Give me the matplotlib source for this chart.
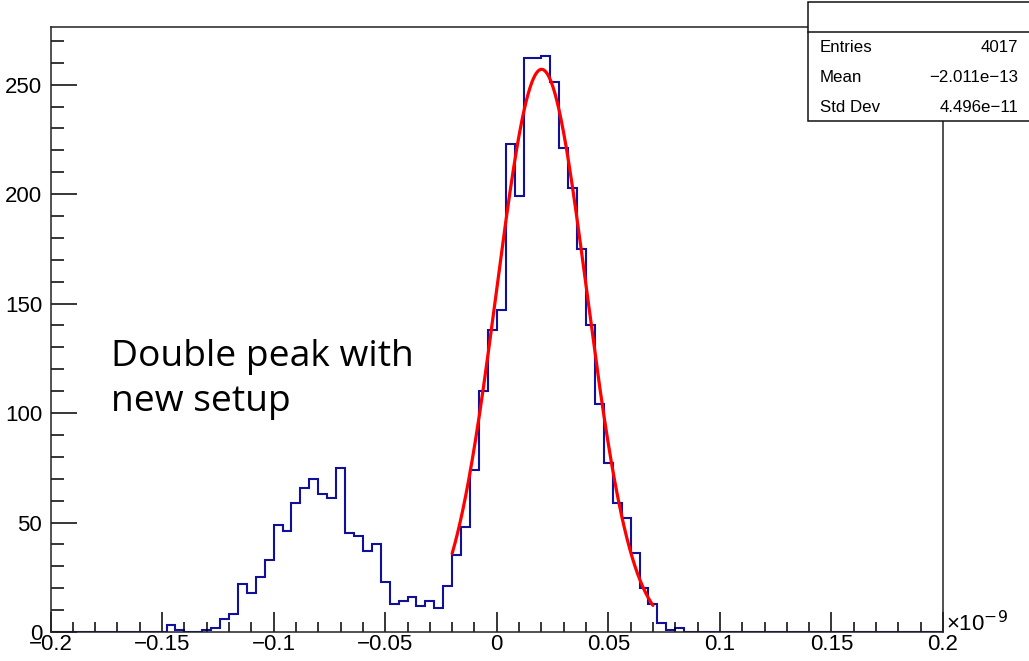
import numpy as np
import matplotlib
matplotlib.use("Agg")
import matplotlib.pyplot as plt
from matplotlib.patches import Rectangle
from matplotlib.lines import Line2D

# ---------------- data ----------------
x_min, x_max, n_bins = -0.2, 0.2, 100          # axis in units of 1e-9
first_filled_bin = 13
filled_counts = [3, 1, 0, 0, 1, 2, 6, 8, 22, 18, 25, 33, 49, 46, 59, 66, 70, 63, 61,
                 75, 45, 44, 37, 40, 23, 13, 14, 16, 12, 14, 11, 21, 35, 48, 74,
                 110, 138, 147, 223, 199, 262, 262, 263, 251, 221, 203, 175, 140,
                 104, 77, 59, 52, 36, 20, 13, 4, 1, 2]
fit_amp, fit_mean, fit_sigma = 257.0, 0.0201, 0.0202
fit_range = (-0.02, 0.07)

x_tick_values = [-0.2, -0.15, -0.1, -0.05, 0, 0.05, 0.1, 0.15, 0.2]
x_tick_labels = ["\u22120.2", "\u22120.15", "\u22120.1", "\u22120.05", "0",
                 "0.05", "0.1", "0.15", "0.2"]
y_tick_values = [0, 50, 100, 150, 200, 250]
y_tick_labels = ["0", "50", "100", "150", "200", "250"]
y_max = 276.2

stats_labels = ["Entries", "Mean", "Std Dev"]
stats_values = ["4017", "\u22122.011e\u221213", "4.496e\u221211"]
annotation_lines = ["Double peak with", "new setup"]

# ---------------- figure ----------------
W, H = 1029, 661
fig = plt.figure(figsize=(W / 100, H / 100), dpi=100)
fig.patch.set_facecolor("white")

def fx(px):
    return px / W

def fy(py):
    return 1 - py / H

ax_l, ax_r, ax_t, ax_b = 50.5, 943, 27.3, 632
ax = fig.add_axes([fx(ax_l), fy(ax_b), fx(ax_r) - fx(ax_l), fy(ax_t) - fy(ax_b)])

counts = np.zeros(n_bins)
counts[first_filled_bin:first_filled_bin + len(filled_counts)] = filled_counts
edges = np.linspace(x_min, x_max, n_bins + 1)
ax.stairs(counts, edges, color="#10109a", lw=1.5, baseline=None)

xf = np.linspace(fit_range[0], fit_range[1], 300)
yf = fit_amp * np.exp(-0.5 * ((xf - fit_mean) / fit_sigma) ** 2)
ax.plot(xf, yf, color="#ff0000", lw=2.3, solid_capstyle="round")

ax.set_xlim(x_min, x_max)
ax.set_ylim(0, y_max)

font_axis = "Liberation Sans"
ax.set_xticks(x_tick_values)
ax.set_xticklabels(x_tick_labels, fontfamily=font_axis, fontsize=16)
ax.set_xticks(np.arange(-0.19, 0.2, 0.01), minor=True)
ax.set_yticks(y_tick_values)
ax.set_yticklabels(y_tick_labels, fontfamily=font_axis, fontsize=16)
ax.set_yticks(np.arange(10, 271, 10), minor=True)

ax.tick_params(axis="x", which="major", direction="in", length=14.2, width=1.1, pad=1.5)
ax.tick_params(axis="x", which="minor", direction="in", length=7.2, width=1.1)
ax.tick_params(axis="y", which="major", direction="in", length=18.7, width=1.1, pad=6)
ax.tick_params(axis="y", which="minor", direction="in", length=9.4, width=1.1)
ax.tick_params(top=False, right=False, which="both")
for s in ax.spines.values():
    s.set_linewidth(1.1)
    s.set_color("#222222")

# x10^-9 label
fig.text(fx(946), fy(624), "\u00d710$^{\u22129}$", fontfamily=font_axis, fontsize=16,
         ha="left", va="center")

# annotation text
fig.text(fx(111), fy(366), annotation_lines[0], fontfamily="Open Sans", fontsize=26.8,
         ha="left", va="baseline")
fig.text(fx(111), fy(411), annotation_lines[1], fontfamily="Open Sans", fontsize=26.8,
         ha="left", va="baseline")

# stats box
bx0, bx1, by0, by1, bsep = 808.3, 1040, 1.7, 121, 31.7
fig.patches.append(Rectangle((fx(bx0), fy(by1)), fx(bx1) - fx(bx0), fy(by0) - fy(by1),
                             transform=fig.transFigure, facecolor="white",
                             edgecolor="#111111", lw=1.1, zorder=5))
fig.lines.append(Line2D([fx(bx0), fx(bx1)], [fy(bsep), fy(bsep)], transform=fig.transFigure,
                        color="#111111", lw=1.1, zorder=6))
row_y = [47, 77.5, 107.5]
for lab, val, ry in zip(stats_labels, stats_values, row_y):
    fig.text(fx(820), fy(ry), lab, fontfamily=font_axis, fontsize=12.2, ha="left",
             va="center", zorder=7)
    fig.text(fx(1018), fy(ry), val, fontfamily=font_axis, fontsize=12.2, ha="right",
             va="center", zorder=7)

fig.savefig("out.png", dpi=100, facecolor="white")
